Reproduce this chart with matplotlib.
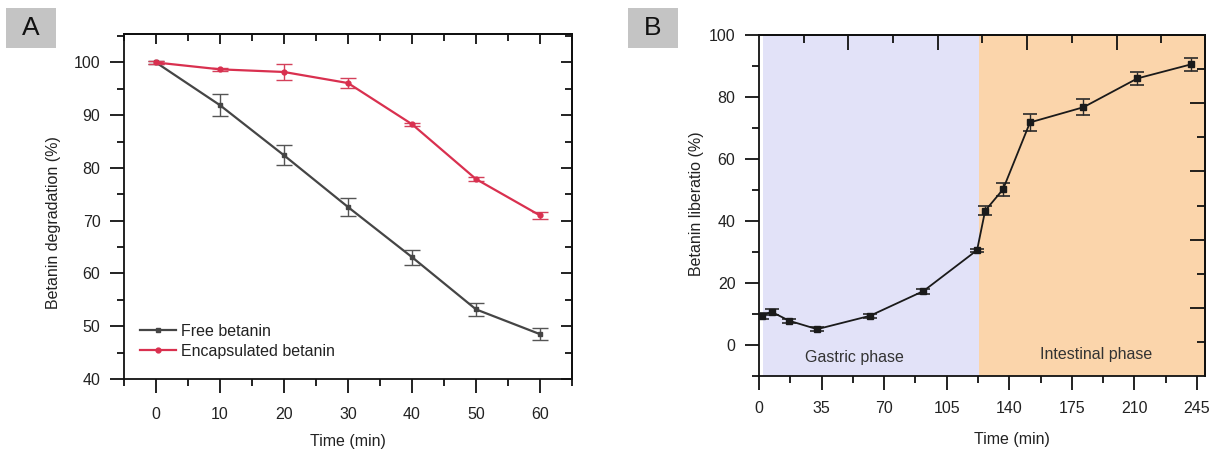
import matplotlib
matplotlib.use("Agg")
import matplotlib.pyplot as plt
from matplotlib.ticker import MultipleLocator, FixedLocator, NullFormatter
from matplotlib.patches import Rectangle

plt.rcParams['font.family'] = ['Liberation Sans', 'DejaVu Sans']

# ---- Panel A: thermal degradation ----
time_a = [0, 10, 20, 30, 40, 50, 60]
free_betanin = [100, 91.9, 82.4, 72.6, 63.1, 53.2, 48.5]
free_err = [0.3, 2.1, 1.9, 1.7, 1.4, 1.2, 1.1]
encap_betanin = [100, 98.7, 98.2, 96.1, 88.3, 77.9, 71.0]
encap_err = [0.3, 0.3, 1.6, 1.0, 0.3, 0.3, 0.6]
series_labels = ['Free betanin', 'Encapsulated betanin']

# ---- Panel B: simulated digestion release ----
time_b = [1.5, 7, 17, 32.5, 62, 92, 122, 126.5, 136.5, 151.6, 181.5, 211.7, 241.5]
release = [9.4, 10.7, 7.8, 5.1, 9.4, 17.4, 30.6, 43.3, 50.2, 71.8, 76.7, 86.0, 90.5]
release_err = [0.9, 0.9, 0.7, 0.7, 0.7, 0.8, 0.5, 1.4, 2.2, 2.8, 2.6, 2.2, 2.0]
gastric_span = (2, 123)
intestinal_span = (123, 249.5)

FS = 11.5
TXT = '#222222'

fig = plt.figure(figsize=(12.12, 4.5), dpi=100)
fig.patch.set_facecolor('white')

W, H = 1212, 450
axA = fig.add_axes([124 / W, 71 / H, 448 / W, 345 / H])
axB = fig.add_axes([759 / W, 74 / H, 446 / W, 341 / H])


def style_axes(ax):
    for s in ax.spines.values():
        s.set_linewidth(1.3)
        s.set_color('#111111')
    ax.tick_params(which='both', direction='out', width=1.3, colors='#111111',
                   labelcolor=TXT, labelsize=FS, top=False, right=False)
    ax.tick_params(which='major', length=10)
    ax.tick_params(which='minor', length=5)


# ---------------- Panel A ----------------
style_axes(axA)
free_col = '#454545'
enc_col = '#d9304f'
ebf = axA.errorbar(time_a, free_betanin, yerr=free_err, color=free_col, ecolor='#555555',
                   marker='s', ms=3.5, lw=1.6, elinewidth=1.0, capsize=6, capthick=1.0,
                   zorder=3)
ebe = axA.errorbar(time_a, encap_betanin, yerr=encap_err, color=enc_col, ecolor='#d4405a',
                   marker='o', ms=3.5, lw=1.6, elinewidth=1.0, capsize=6, capthick=1.0,
                   zorder=4)
axA.set_xlim(-5, 65)
axA.set_ylim(40, 105.4)
axA.xaxis.set_major_locator(MultipleLocator(10))
axA.xaxis.set_minor_locator(MultipleLocator(5))
axA.yaxis.set_major_locator(MultipleLocator(10))
axA.yaxis.set_minor_locator(MultipleLocator(5))
axA.tick_params(axis='x', pad=10)
axA.tick_params(axis='y', pad=7)
axA.set_xlabel('Time (min)', fontsize=FS, color=TXT)
axA.set_ylabel('Betanin degradation (%)', fontsize=FS, color=TXT)
axA.xaxis.set_label_coords(0.5, -0.16)
axA.yaxis.set_label_coords(-0.141, 0.452)

topA = axA.secondary_xaxis('top')
topA.xaxis.set_major_locator(MultipleLocator(10))
topA.xaxis.set_minor_locator(MultipleLocator(5))
topA.xaxis.set_major_formatter(NullFormatter())
topA.tick_params(which='both', direction='in', width=1.3, colors='#111111')
topA.tick_params(which='major', length=7)
topA.tick_params(which='minor', length=5)
topA.spines['top'].set_linewidth(1.3)

rightA = axA.secondary_yaxis('right')
rightA.yaxis.set_major_locator(MultipleLocator(10))
rightA.yaxis.set_minor_locator(MultipleLocator(5))
rightA.yaxis.set_major_formatter(NullFormatter())
rightA.tick_params(which='both', direction='in', width=1.3, colors='#111111')
rightA.tick_params(which='major', length=8)
rightA.tick_params(which='minor', length=5)
rightA.spines['right'].set_linewidth(1.3)

leg = axA.legend(handles=[ebf[0], ebe[0]], labels=series_labels, loc='upper left',
                 bbox_to_anchor=(0.035, 0.16), frameon=False, fontsize=11.5,
                 handlelength=2.3, handletextpad=0.3, labelspacing=0.32,
                 borderpad=0, borderaxespad=0)
for t in leg.get_texts():
    t.set_color(TXT)

# ---------------- Panel B ----------------
style_axes(axB)
axB.axvspan(*gastric_span, color='#e2e2f8', lw=0, zorder=0)
axB.axvspan(*intestinal_span, color='#fbd5ab', lw=0, zorder=0)
axB.errorbar(time_b, release, yerr=release_err, color='#1a1a1a', ecolor='#2a2a2a',
             marker='s', ms=4, lw=1.3, elinewidth=1.0, capsize=5, capthick=1.2, zorder=3)
axB.set_xlim(0, 249.5)
axB.set_ylim(-10, 100)
axB.xaxis.set_major_locator(MultipleLocator(35))
axB.xaxis.set_minor_locator(MultipleLocator(17.5))
axB.yaxis.set_major_locator(MultipleLocator(20))
axB.yaxis.set_minor_locator(MultipleLocator(10))
axB.tick_params(axis='x', pad=8)
axB.tick_params(axis='y', pad=7)
axB.set_xlabel('Time (min)', fontsize=FS, color=TXT)
axB.set_ylabel('Betanin liberatio (%)', fontsize=FS, color=TXT)
axB.xaxis.set_label_coords(0.567, -0.165)
axB.yaxis.set_label_coords(-0.123, 0.504)

axB.text(53.4, -4.1, 'Gastric phase', ha='center', va='center', fontsize=FS, color='#333333')
axB.text(188.6, -3.2, 'Intestinal phase', ha='center', va='center', fontsize=FS, color='#333333')

topB = axB.secondary_xaxis('top')
topB.xaxis.set_major_locator(FixedLocator([50, 100, 150, 200]))
topB.xaxis.set_minor_locator(FixedLocator([25, 75, 125, 175, 225]))
topB.xaxis.set_major_formatter(NullFormatter())
topB.tick_params(which='both', direction='in', width=1.3, colors='#111111')
topB.tick_params(which='major', length=11)
topB.tick_params(which='minor', length=6)
topB.spines['top'].set_linewidth(1.3)

rightB = axB.secondary_yaxis('right')
rightB.yaxis.set_major_locator(FixedLocator([12, 34, 56, 78]))
rightB.yaxis.set_minor_locator(FixedLocator([1, 23, 45, 67, 89]))
rightB.yaxis.set_major_formatter(NullFormatter())
rightB.tick_params(which='both', direction='in', width=1.3, colors='#111111')
rightB.tick_params(which='major', length=11)
rightB.tick_params(which='minor', length=6)
rightB.spines['right'].set_linewidth(1.3)

# ---------------- Panel letters ----------------
for x0, letter in [(6, 'A'), (628, 'B')]:
    fig.patches.append(Rectangle((x0 / W, (H - 48) / H), 50 / W, 40 / H,
                                 transform=fig.transFigure, facecolor='#c4c4c4',
                                 edgecolor='none', zorder=0))
    fig.text((x0 + 25) / W, (H - 28) / H, letter, ha='center', va='center',
             fontsize=19, color='#111111')

fig.savefig('out.png', dpi=100, facecolor='white')
